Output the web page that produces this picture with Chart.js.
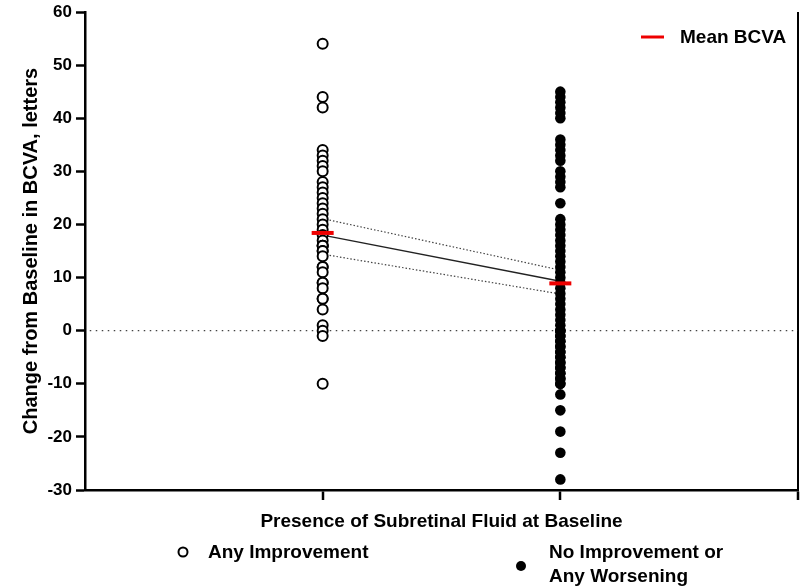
<!DOCTYPE html>
<html>
<head>
<meta charset="utf-8">
<script src="https://cdn.jsdelivr.net/npm/chart.js@4"></script>
<style>
  html, body { margin: 0; padding: 0; background: #fff; }
  #wrap { width: 800px; height: 587px; }
</style>
</head>
<body>
<div id="wrap"><canvas id="bcvaChart" width="800" height="587"></canvas></div>
<script>
// Values
const groupPositions = [1, 2];
const improvementValues = [54, 44, 42, 34, 33, 32, 31, 30, 28, 27, 26, 25, 24, 23, 22, 21, 20, 19, 18, 17,
    16, 16, 16, 15, 15, 14, 12, 12, 11, 9, 9, 8, 6, 6, 4, 1, 0, -1, -10];
const noImprovementValues = [45, 44, 43, 42, 41, 40, 36, 35, 34, 33, 32, 30, 29, 28, 27, 24,
    21, 20, 19, 18, 17, 16, 15, 14, 13, 12, 11, 10, 9, 8, 7, 6, 5, 4, 3, 2, 1, 0, 0, 0,
    -1, -1, -2, -2, -3, -3, -4, -4, -5, -5, -6, -6, -7, -7, -8, -8, -9, -9, -10, -10, -12, -15, -19, -23, -28];
const meanValues = [18.4, 8.9];
const fitValues = [18.0, 9.3];
const fitUpper = [21.1, 11.4];
const fitLower = [14.4, 6.9];
const yTicks = [60, 50, 40, 30, 20, 10, 0, -10, -20, -30];

const FONT = '"Liberation Sans", Arial, Helvetica, sans-serif';

const toPoints = (x, values) => values.map(v => ({ x: x, y: v }));

// Legend text and axis titles drawn on top
const annotations = {
    id: 'annotations',
    afterDraw(chart) {
        const ctx = chart.ctx;
        const area = chart.chartArea;
        ctx.save();
        ctx.fillStyle = '#000';

        // y title
        ctx.save();
        ctx.font = 'bold 20px ' + FONT;
        ctx.translate(31, (area.top + area.bottom) / 2);
        ctx.rotate(-Math.PI / 2);
        ctx.textAlign = 'center';
        ctx.textBaseline = 'middle';
        ctx.fillText('Change from Baseline in BCVA, letters', 0, 0);
        ctx.restore();

        ctx.font = 'bold 19px ' + FONT;
        // x title
        ctx.textAlign = 'center';
        ctx.textBaseline = 'middle';
        ctx.fillText('Presence of Subretinal Fluid at Baseline', (area.left + area.right) / 2, 522);

        // mean legend
        ctx.strokeStyle = '#ee0000';
        ctx.lineWidth = 3;
        ctx.beginPath();
        ctx.moveTo(641, 37);
        ctx.lineTo(664, 37);
        ctx.stroke();
        ctx.textAlign = 'left';
        ctx.fillText('Mean BCVA', 680, 38);

        // group legend
        ctx.strokeStyle = '#000';
        ctx.lineWidth = 2;
        ctx.beginPath();
        ctx.arc(183, 552, 4.5, 0, Math.PI * 2);
        ctx.stroke();
        ctx.fillText('Any Improvement', 208, 553);

        ctx.beginPath();
        ctx.arc(521, 566, 5, 0, Math.PI * 2);
        ctx.fill();
        ctx.fillText('No Improvement or', 549, 553);
        ctx.fillText('Any Worsening', 549, 577);
        ctx.restore();
    }
};

function initChart() {
    const ctx = document.getElementById('bcvaChart').getContext('2d');
    new Chart(ctx, {
        type: 'scatter',
        data: {
            datasets: [
                {
                    label: 'Mean BCVA',
                    data: groupPositions.map((x, i) => ({ x: x, y: meanValues[i] })),
                    pointStyle: 'line',
                    pointRadius: 11,
                    borderWidth: 4,
                    borderColor: '#ee0000',
                    backgroundColor: '#ee0000'
                },
                {
                    label: 'Any Improvement',
                    data: toPoints(groupPositions[0], improvementValues),
                    pointRadius: 5,
                    borderWidth: 2,
                    borderColor: '#000',
                    backgroundColor: '#fff'
                },
                {
                    label: 'No Improvement or Any Worsening',
                    data: toPoints(groupPositions[1], noImprovementValues),
                    pointRadius: 5.3,
                    borderWidth: 0,
                    borderColor: '#000',
                    backgroundColor: '#000'
                },
                {
                    label: 'Fit',
                    data: groupPositions.map((x, i) => ({ x: x, y: fitValues[i] })),
                    showLine: true,
                    pointRadius: 0,
                    borderWidth: 1.4,
                    borderColor: '#222'
                },
                {
                    label: 'Upper',
                    data: groupPositions.map((x, i) => ({ x: x, y: fitUpper[i] })),
                    showLine: true,
                    pointRadius: 0,
                    borderWidth: 1.2,
                    borderDash: [1.5, 2],
                    borderColor: '#444'
                },
                {
                    label: 'Lower',
                    data: groupPositions.map((x, i) => ({ x: x, y: fitLower[i] })),
                    showLine: true,
                    pointRadius: 0,
                    borderWidth: 1.2,
                    borderDash: [1.5, 2],
                    borderColor: '#444'
                },
                {
                    label: 'Zero',
                    data: [{ x: 0.02, y: 0 }, { x: 3, y: 0 }],
                    showLine: true,
                    pointRadius: 0,
                    borderWidth: 1.4,
                    borderDash: [1.5, 4.5],
                    borderColor: '#444'
                }
            ]
        },
        options: {
            responsive: false,
            animation: false,
            layout: { autoPadding: false, padding: { left: 0, top: 12, right: 2, bottom: 0 } },
            plugins: {
                legend: { display: false },
                tooltip: { enabled: false }
            },
            scales: {
                x: {
                    type: 'linear',
                    min: 0,
                    max: 3,
                    afterBuildTicks: scale => { scale.ticks = [{ value: 1 }, { value: 2 }, { value: 3 }]; },
                    afterFit: scale => {
                        scale.height = 97;
                        scale.paddingLeft = 0;
                        scale.paddingRight = 0;
                    },
                    ticks: { callback: () => '', padding: 0, maxRotation: 0 },
                    grid: {
                        drawOnChartArea: true,
                        color: c => (c.tick && c.tick.value === 3) ? '#000' : 'rgba(0,0,0,0)',
                        lineWidth: 2,
                        tickLength: 10,
                        tickColor: '#000',
                        tickWidth: 2.5
                    },
                    border: { display: true, color: '#000', width: 2.5 }
                },
                y: {
                    min: -30,
                    max: 60,
                    afterBuildTicks: scale => { scale.ticks = yTicks.map(v => ({ value: v })); },
                    afterFit: scale => {
                        scale.width = 85;
                        scale.paddingTop = 0;
                        scale.paddingBottom = 0;
                    },
                    ticks: {
                        color: '#000',
                        padding: 4,
                        font: { family: FONT, size: 17, weight: 'bold' }
                    },
                    grid: {
                        drawOnChartArea: false,
                        tickLength: 9,
                        tickColor: '#000',
                        tickWidth: 2.5
                    },
                    border: { display: true, color: '#000', width: 2.5 }
                }
            }
        },
        plugins: [annotations]
    });
}

document.addEventListener('DOMContentLoaded', initChart);
</script>
</body>
</html>
